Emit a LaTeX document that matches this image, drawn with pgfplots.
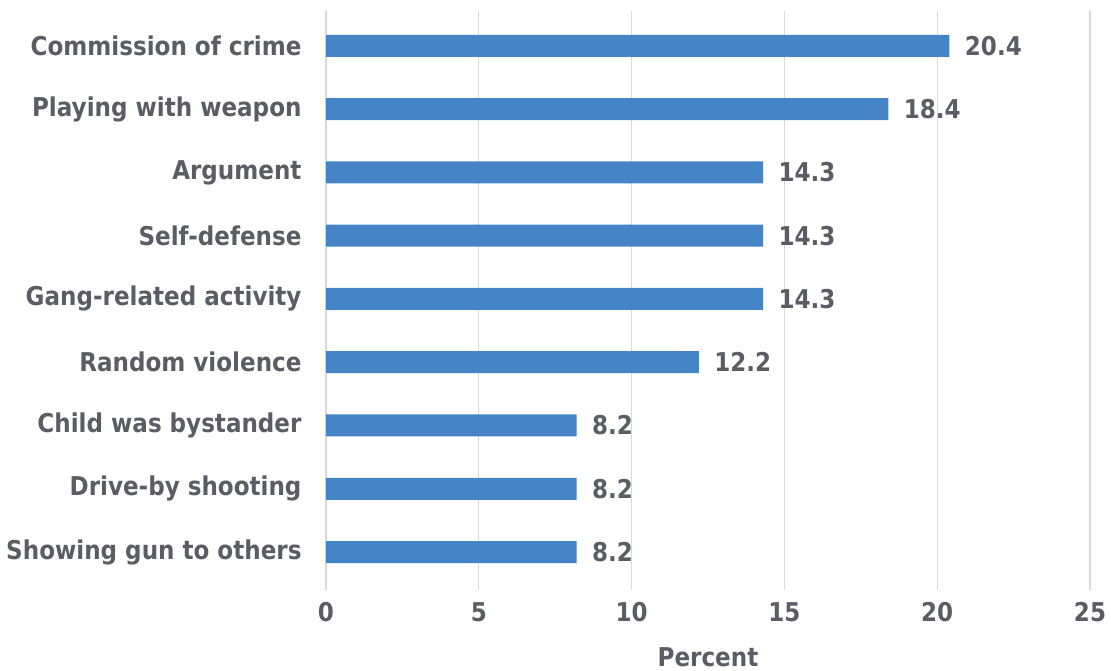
\documentclass[border=0pt]{standalone}
\usepackage{fontspec}
\setmainfont{DejaVu Sans}[FakeStretch=0.89]
\usepackage{pgfplots}
\pgfplotsset{compat=1.18}
\definecolor{barblue}{RGB}{70,132,200}
\definecolor{txtgray}{RGB}{90,94,100}
\definecolor{gridgray}{RGB}{217,217,217}
\begin{document}
\begin{tikzpicture}
\useasboundingbox (-326bp,-81bp) rectangle (785bp,590bp);
\begin{axis}[
  at={(0,0)}, anchor=south west,
  scale only axis,
  width=764bp, height=579bp,
  xbar, bar width=22bp,
  xmin=0, xmax=25,
  ymin=-0.6, ymax=8.55,
  xtick={0,5,10,15,20,25},
  ytick={0,1,2,3,4,5,6,7,8},
  yticklabels={Showing gun to others,Drive-by shooting,Child was bystander,Random violence,Gang-related activity,Self-defense,Argument,Playing with weapon,Commission of crime},
  axis line style={draw=none},
  major tick length=0pt,
  xmajorgrids, grid style={gridgray, line width=1.2pt},
  /pgf/number format/assume math mode=true,
  ticklabel style={font=\fontsize{26}{30}\selectfont\bfseries, text=txtgray},
  yticklabel style={anchor=east, xshift=-21bp},
  xticklabel style={yshift=-9bp},
  xlabel={Percent},
  xlabel style={font=\fontsize{26}{30}\selectfont\bfseries, text=txtgray, at={(axis description cs:0.5,0)}, anchor=center, yshift=-67bp},
  nodes near coords,
  nodes near coords style={font=\fontsize{26}{30}\selectfont\bfseries, text=txtgray, /pgf/number format/fixed, /pgf/number format/fixed zerofill, /pgf/number format/precision=1, xshift=12bp},
  clip=false,
]
\addplot[fill=barblue, draw=none] coordinates {
 (8.2,0) (8.2,1) (8.2,2) (12.2,3) (14.3,4) (14.3,5) (14.3,6) (18.4,7) (20.4,8)
};
\end{axis}
\end{tikzpicture}
\end{document}
